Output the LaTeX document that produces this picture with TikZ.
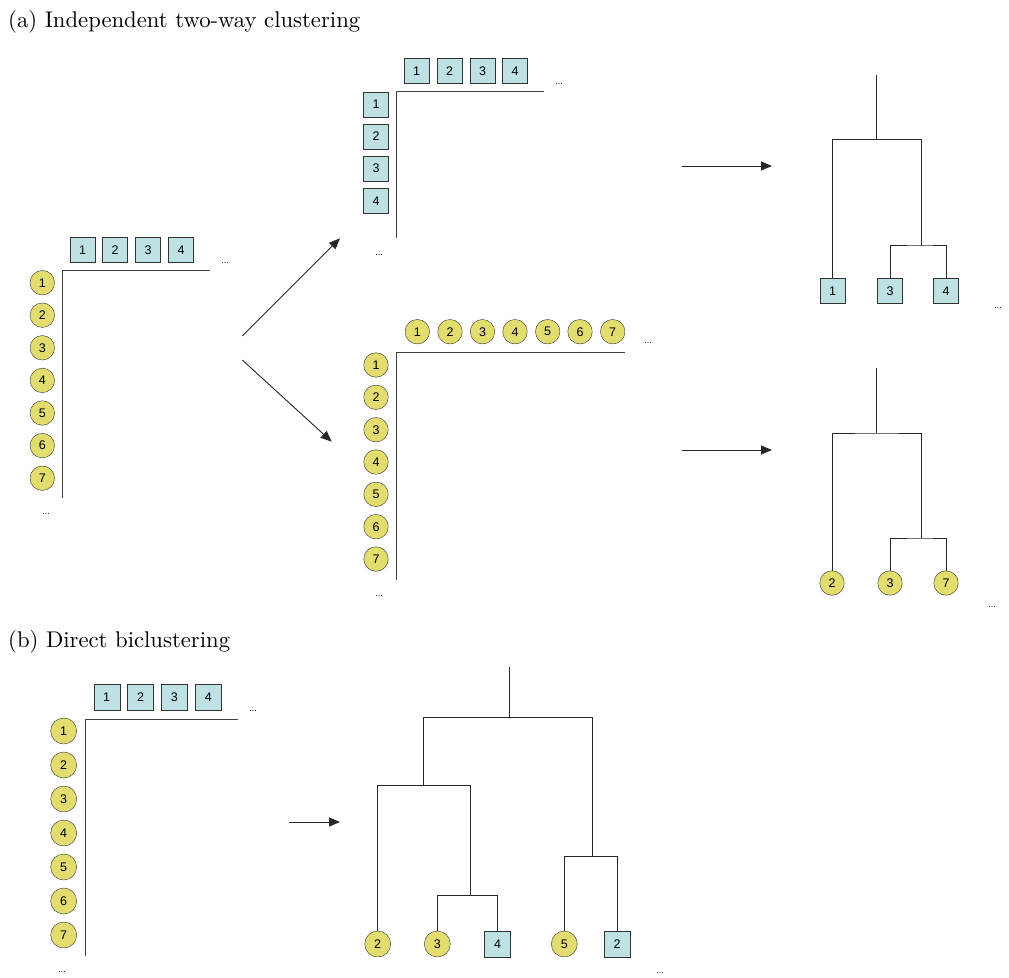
\documentclass[tikz,border=0pt]{standalone}
\usepackage{fontspec}
\setsansfont{Liberation Sans}
\usetikzlibrary{arrows.meta}

\begin{document}
\begin{tikzpicture}[x=1pt, y=-1pt,
  sq/.style = {draw = black!80, fill = boxcol, minimum size = 25pt, inner sep = 0pt, font = \sffamily\fontsize{12.5}{14}\selectfont},
  cir/.style = {circle, draw = black!80, fill = ballcol, minimum size = 24.5pt, inner sep = 0pt, font = \sffamily\fontsize{12.5}{14}\selectfont},
  ax/.style = {draw = black!75, line width = 0.9pt},
  dend/.style = {draw = black!85, line width = 0.9pt},
  arr/.style = {draw = black!85, line width = 0.9pt, -{Triangle[length = 11pt, width = 9pt]}},
  more/.style = {font = \sffamily\fontsize{9}{10}\selectfont, inner sep = 0pt},
  ttl/.style = {anchor = base west, inner sep = 0pt, font = \fontsize{10}{12}\selectfont}]
\definecolor{boxcol}{HTML}{BEE2E3}
\definecolor{ballcol}{HTML}{E2DD6E}
\useasboundingbox (0, 0) rectangle (1009, 977);

% (a) independent two-way clustering
\node[ttl] (ttlA) at (8, 27.7) {\scalebox{2.27}{(a) Independent two-way clustering}};

% input matrix
\node[sq] (aC1) at (82.5, 250) {1};
\node[sq] (aC2) at (115, 250) {2};
\node[sq] (aC3) at (148, 250) {3};
\node[sq] (aC4) at (181, 250) {4};
\node[cir] (aR1) at (42.3, 282.7) {1};
\node[cir] (aR2) at (42.3, 315.2) {2};
\node[cir] (aR3) at (42.3, 347.8) {3};
\node[cir] (aR4) at (42.3, 380.4) {4};
\node[cir] (aR5) at (42.3, 413) {5};
\node[cir] (aR6) at (42.3, 445.6) {6};
\node[cir] (aR7) at (42.3, 478.2) {7};
\coordinate (aO) at (62.7, 270.7);
\coordinate (aX) at (210, 270.7);
\coordinate (aY) at (62.7, 498);
\draw[ax] (aX) -- (aO) -- (aY);
\node[more] (aDx) at (225, 263) {...};
\node[more] (aDy) at (46, 514) {...};

\coordinate (aOut1) at (242.3, 336);
\coordinate (aOut2) at (242.3, 360);
\coordinate (cIn) at (340, 238.3);
\coordinate (rIn) at (331.7, 441.7);
\draw[arr] (aOut1) -- (cIn);
\draw[arr] (aOut2) -- (rIn);

% column matrix
\node[sq] (cC1) at (416.7, 71) {1};
\node[sq] (cC2) at (449.5, 71) {2};
\node[sq] (cC3) at (482.5, 71) {3};
\node[sq] (cC4) at (515, 71) {4};
\node[sq] (cR1) at (376, 104.3) {1};
\node[sq] (cR2) at (376, 136.5) {2};
\node[sq] (cR3) at (376, 168.5) {3};
\node[sq] (cR4) at (376, 200.7) {4};
\coordinate (cO) at (396.7, 91.7);
\coordinate (cX) at (544, 91.7);
\coordinate (cY) at (396.7, 237.7);
\draw[ax] (cX) -- (cO) -- (cY);
\node[more] (cDx) at (559, 84) {...};
\node[more] (cDy) at (379, 255) {...};

% row matrix
\node[cir] (rC1) at (417.3, 331.7) {1};
\node[cir] (rC2) at (450, 331.7) {2};
\node[cir] (rC3) at (482.5, 331.7) {3};
\node[cir] (rC4) at (515, 331.7) {4};
\node[cir] (rC5) at (547.7, 331.7) {5};
\node[cir] (rC6) at (580, 331.7) {6};
\node[cir] (rC7) at (612.7, 331.7) {7};
\node[cir] (rR1) at (376, 365) {1};
\node[cir] (rR2) at (376, 397.3) {2};
\node[cir] (rR3) at (376, 429.7) {3};
\node[cir] (rR4) at (376, 462) {4};
\node[cir] (rR5) at (376, 494.3) {5};
\node[cir] (rR6) at (376, 526.7) {6};
\node[cir] (rR7) at (376, 559) {7};
\coordinate (rO) at (396.7, 352.3);
\coordinate (rX) at (625, 352.3);
\coordinate (rY) at (396.7, 580);
\draw[ax] (rX) -- (rO) -- (rY);
\node[more] (rDx) at (648, 343) {...};
\node[more] (rDy) at (379, 596) {...};

\coordinate (cOut) at (682, 166);
\coordinate (cTreeIn) at (772, 166);
\coordinate (rOut) at (682, 450);
\coordinate (rTreeIn) at (772, 450);
\draw[arr] (cOut) -- (cTreeIn);
\draw[arr] (rOut) -- (rTreeIn);

% column tree
\node[sq] (ctL1) at (832.7, 290.8) {1};
\node[sq] (ctL3) at (890, 290.8) {3};
\node[sq] (ctL4) at (946, 290.8) {4};
\coordinate (ctTop) at (876.7, 75);
\coordinate (ctJ) at (876.7, 139.3);
\coordinate (ctK) at (921.7, 245);
\draw[dend] (ctTop) -- (ctJ);
\draw[dend] (ctL1.north) |- (ctJ) -| (ctK);
\draw[dend] (ctL3.north) |- (ctK) -| (ctL4.north);
\node[more] (ctD) at (998, 308) {...};

% row tree
\node[cir] (rtL2) at (832, 583) {2};
\node[cir] (rtL3) at (890, 583) {3};
\node[cir] (rtL7) at (946, 583) {7};
\coordinate (rtTop) at (876.7, 368);
\coordinate (rtJ) at (876.7, 433);
\coordinate (rtK) at (921.7, 538);
\draw[dend] (rtTop) -- (rtJ);
\draw[dend] (rtL2.north) |- (rtJ) -| (rtK);
\draw[dend] (rtL3.north) |- (rtK) -| (rtL7.north);
\node[more] (rtD) at (992, 607) {...};

% (b) direct biclustering
\node[ttl] (ttlB) at (8, 647) {\scalebox{2.27}{(b) Direct biclustering}};

\node[sq, minimum size = 26pt] (bC1) at (106.7, 697) {1};
\node[sq, minimum size = 26pt] (bC2) at (140.5, 697) {2};
\node[sq, minimum size = 26pt] (bC3) at (174.3, 697) {3};
\node[sq, minimum size = 26pt] (bC4) at (208.3, 697) {4};
\node[cir, minimum size = 26pt] (bR1) at (63.7, 731) {1};
\node[cir, minimum size = 26pt] (bR2) at (63.7, 765) {2};
\node[cir, minimum size = 26pt] (bR3) at (63.7, 799) {3};
\node[cir, minimum size = 26pt] (bR4) at (63.7, 833) {4};
\node[cir, minimum size = 26pt] (bR5) at (63.7, 867) {5};
\node[cir, minimum size = 26pt] (bR6) at (63.7, 901) {6};
\node[cir, minimum size = 26pt] (bR7) at (63.7, 935) {7};
\coordinate (bO) at (85, 719);
\coordinate (bX) at (238.3, 719);
\coordinate (bY) at (85, 956);
\draw[ax] (bX) -- (bO) -- (bY);
\node[more] (bDx) at (253, 711) {...};
\node[more] (bDy) at (62, 972) {...};

\coordinate (bOut) at (289, 822);
\coordinate (bTreeIn) at (340, 822);
\draw[arr] (bOut) -- (bTreeIn);

% bicluster tree
\node[cir, minimum size = 26pt] (btR2) at (377.7, 944) {2};
\node[cir, minimum size = 26pt] (btR3) at (437.3, 944) {3};
\node[sq, minimum size = 26pt] (btC4) at (497.5, 944) {4};
\node[cir, minimum size = 26pt] (btR5) at (564.3, 944) {5};
\node[sq, minimum size = 26pt] (btC2) at (617, 944) {2};
\coordinate (btTop) at (509, 667);
\coordinate (btJ) at (509, 717.3);
\coordinate (btL) at (423.3, 785);
\coordinate (btLL) at (470, 895);
\coordinate (btR) at (592.3, 856.7);
\draw[dend] (btTop) -- (btJ);
\draw[dend] (btL) |- (btJ) -| (btR);
\draw[dend] (btR2.north) |- (btL) -| (btLL);
\draw[dend] (btR3.north) |- (btLL) -| (btC4.north);
\draw[dend] (btR5.north) |- (btR) -| (btC2.north);
\node[more] (btD) at (660, 973) {...};
\end{tikzpicture}
\end{document}
